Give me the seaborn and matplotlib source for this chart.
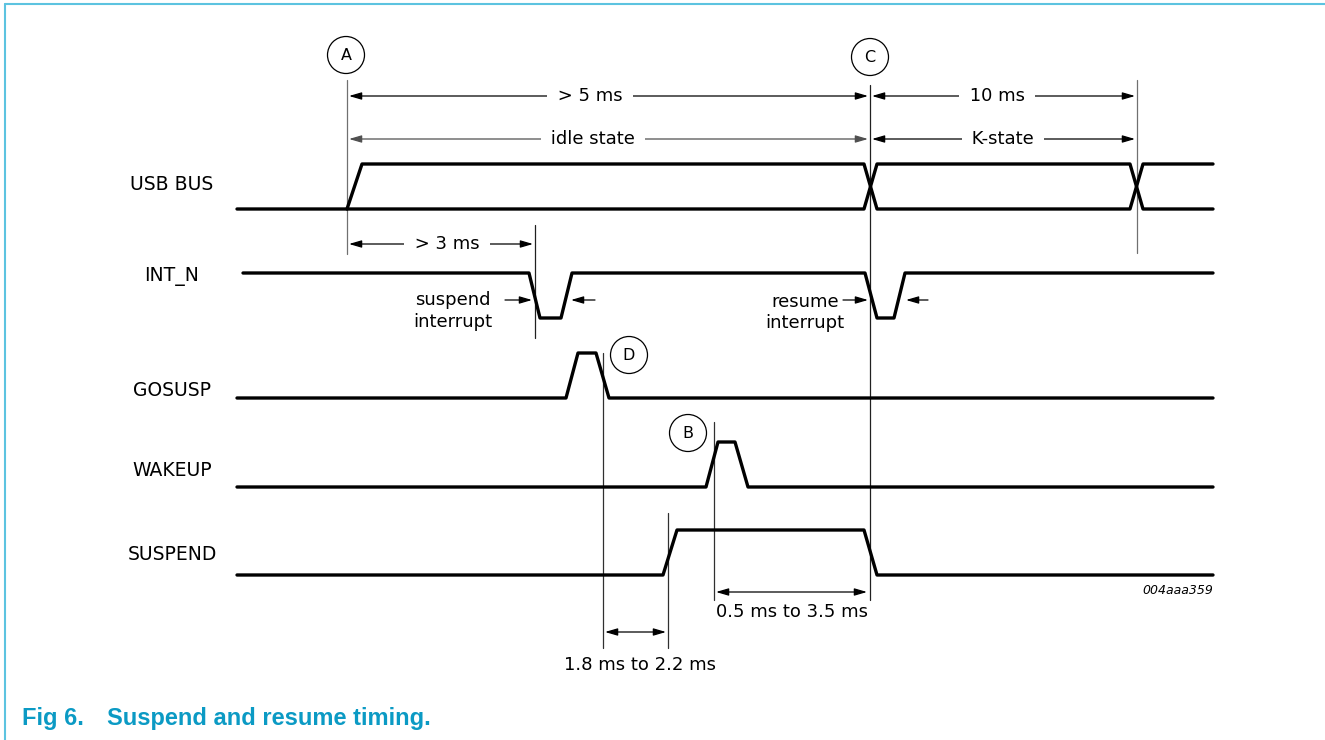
import pandas as pd
import seaborn as sns
import matplotlib.pyplot as plt
from matplotlib.patches import Circle

# waveform break points (time axis, drawing units) and logic levels
usb_t_a = [237, 864, 877, 1130, 1143, 1213]
usb_lv_a = [0, 0, 1, 1, 0, 0]
usb_t_b = [347, 362, 864, 877, 1130, 1143, 1213]
usb_lv_b = [0, 1, 1, 0, 0, 1, 1]
int_t = [243, 529, 540, 561, 572, 865, 877, 894, 905, 1213]
int_lv = [1, 1, 0, 0, 1, 1, 0, 0, 1, 1]
gosusp_t = [237, 566, 578, 596, 609, 1213]
gosusp_lv = [0, 0, 1, 1, 0, 0]
wakeup_t = [237, 706, 718, 735, 748, 1213]
wakeup_lv = [0, 0, 1, 1, 0, 0]
suspend_t = [237, 663, 677, 864, 877, 1213]
suspend_lv = [0, 0, 1, 1, 0, 0]

signal_names = ["USB BUS", "INT_N", "GOSUSP", "WAKEUP", "SUSPEND"]

# event markers: label, time
events = {"A": 347, "C": 870, "D": 603, "B": 714}

# layout (figure pixels, y downwards)
row_low = {"USB BUS": 209, "INT_N": 318, "GOSUSP": 398, "WAKEUP": 487, "SUSPEND": 575}
label_y = {"USB BUS": 184, "INT_N": 277, "GOSUSP": 390, "WAKEUP": 470, "SUSPEND": 555}
amp = 45

segments = [
    ("USB BUS", "usb_a", usb_t_a, usb_lv_a),
    ("USB BUS", "usb_b", usb_t_b, usb_lv_b),
    ("INT_N", "int", int_t, int_lv),
    ("GOSUSP", "gosusp", gosusp_t, gosusp_lv),
    ("WAKEUP", "wakeup", wakeup_t, wakeup_lv),
    ("SUSPEND", "suspend", suspend_t, suspend_lv),
]
rows = []
for sig, seg, ts, lvs in segments:
    for t, lv in zip(ts, lvs):
        rows.append({"t": t, "y": row_low[sig] - amp * lv, "seg": seg})
df = pd.DataFrame(rows)

sns.set_style("white")
plt.rcParams["text.color"] = "black"
fig = plt.figure(figsize=(13.25, 7.4), dpi=100)
ax = fig.add_axes([0, 0, 1, 1])

sns.lineplot(data=df, x="t", y="y", units="seg", estimator=None, sort=False,
             color="black", lw=2.4, ax=ax, zorder=3, legend=False)
ax.set_xlim(0, 1325)
ax.set_ylim(740, 0)
ax.axis("off")

# frame (top and left edges)
frame_c = "#5cc3e0"
ax.plot([5, 1325], [4, 4], color=frame_c, lw=1.5, clip_on=False)
ax.plot([5, 5], [4, 740], color=frame_c, lw=1.5, clip_on=False)

# reference verticals
vl = [(events["A"], 80, 254, "#707070"), (events["C"], 85, 600, "#202020"),
      (1137, 80, 253, "#707070"), (535, 225, 338, "#202020"),
      (events["D"], 353, 648, "#303030"), (668, 513, 648, "#303030"),
      (events["B"], 422, 600, "#303030")]
for x, y0, y1, c in vl:
    ax.plot([x, x], [y0, y1], color=c, lw=0.9, zorder=2)

# circled event letters
circ = {"A": (346, 55), "C": (870, 57), "D": (629, 355), "B": (688, 433)}
for k, (cx, cy) in circ.items():
    ax.add_patch(Circle((cx, cy), 18.5, fill=False, lw=0.9, ec="black"))
    ax.text(cx, cy, k, ha="center", va="center", fontsize=11.5)

arr = dict(arrowstyle="-|>,head_length=0.75,head_width=0.22", color="black",
           lw=0.9, shrinkA=0, shrinkB=0, mutation_scale=10)
arr2 = dict(arr, arrowstyle="<|-|>,head_length=0.75,head_width=0.22")


def dim(x0, x1, y, text=None, tx=None, c="black"):
    ax.annotate("", xy=(x1, y), xytext=(x0, y), arrowprops=dict(arr2, color=c))
    if text:
        ax.text(tx, y, " " + text + " ", ha="center", va="center", fontsize=13,
                bbox=dict(boxstyle="square,pad=0.25", fc="white", ec="none"))


dim(349, 868, 96, "> 5 ms", 590)
dim(872, 1135, 96, "10 ms", 997)
dim(349, 868, 139, "idle state", 593, c="#505050")
dim(872, 1135, 139, "K-state", 1003)
dim(349, 533, 244, "> 3 ms", 447)
dim(716, 867, 592)
dim(605, 666, 632)

# one-sided interrupt width arrows
for x0, x1 in [(505, 532), (595, 571), (843, 868), (928, 906)]:
    ax.annotate("", xy=(x1, 300), xytext=(x0, 300), arrowprops=arr)

ax.text(453, 300, "suspend", ha="center", va="center", fontsize=13)
ax.text(453, 322, "interrupt", ha="center", va="center", fontsize=13)
ax.text(805, 302, "resume", ha="center", va="center", fontsize=13)
ax.text(805, 323, "interrupt", ha="center", va="center", fontsize=13)
ax.text(792, 612, "0.5 ms to 3.5 ms", ha="center", va="center", fontsize=13)
ax.text(640, 665, "1.8 ms to 2.2 ms", ha="center", va="center", fontsize=13)
ax.text(1213, 591, "004aaa359", ha="right", va="center", fontsize=9, style="italic")

for name in signal_names:
    ax.text(172, label_y[name], name, ha="center", va="center", fontsize=13.5)

ax.text(22, 718, "Fig 6.", ha="left", va="center", fontsize=17, fontweight="bold",
        color="#0b9ac4", family="Liberation Sans")
ax.text(107, 718, "Suspend and resume timing.", ha="left", va="center", fontsize=17,
        fontweight="bold", color="#0b9ac4", family="Liberation Sans")

plt.savefig("out.png", dpi=100)
